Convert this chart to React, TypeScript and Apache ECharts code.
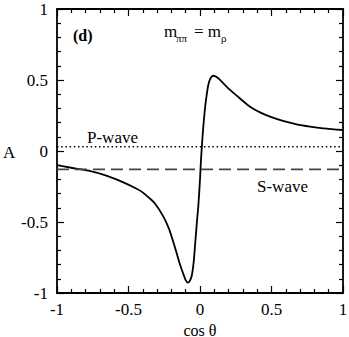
import React, { useEffect, useRef } from "react";
import * as echarts from "echarts";

const cosTheta = [-1, -0.9, -0.78, -0.65, -0.548, -0.45, -0.408, -0.35, -0.315, -0.257, -0.22, -0.19, -0.163, -0.14, -0.117, -0.1, -0.086, -0.072, -0.058, -0.045, -0.035, -0.02, -0.012, 0, 0.007, 0.015, 0.023, 0.032, 0.042, 0.058, 0.075, 0.093, 0.11, 0.128, 0.155, 0.186, 0.21, 0.28, 0.35, 0.42, 0.49, 0.58, 0.676, 0.77, 0.862, 1];
const amplitude = [-0.099, -0.118, -0.139, -0.175, -0.216, -0.262, -0.286, -0.335, -0.37, -0.46, -0.54, -0.63, -0.72, -0.8, -0.865, -0.91, -0.927, -0.915, -0.88, -0.79, -0.67, -0.48, -0.39, -0.2, -0.06, 0.06, 0.17, 0.27, 0.36, 0.465, 0.515, 0.53, 0.525, 0.512, 0.485, 0.453, 0.43, 0.37, 0.312, 0.272, 0.242, 0.212, 0.188, 0.172, 0.16, 0.148];
const pWave = 0.03;
const sWave = -0.13;
const xTicks = ["-1", "-0.5", "0", "0.5", "1"];
const yTicks = ["-1", "-0.5", "0", "0.5", "1"];

const FONT = "Liberation Serif";

export default function App() {
  const ref = useRef<HTMLDivElement>(null);
  useEffect(() => {
    document.body.style.margin = "0";
    if (!ref.current) return;
    const chart = echarts.init(ref.current, null, { renderer: "svg" });
    const fmt = (v: number) => {
      const s = String(Math.round(v * 10) / 10);
      return [...xTicks, ...yTicks].includes(s) ? s : "";
    };
    const axisCommon = {
      type: "value" as const,
      min: -1,
      max: 1,
      interval: 0.5,
      axisLine: { show: true, onZero: false, lineStyle: { color: "#000", width: 1.8 } },
      axisTick: { show: true, inside: true, length: 7, lineStyle: { color: "#000", width: 1.2 } },
      minorTick: { show: true, splitNumber: 5, length: 4, lineStyle: { color: "#000", width: 1.2 } },
      splitLine: { show: false },
      minorSplitLine: { show: false },
    };
    const txt = (text: string, x: number, y: number, size: number, bold = false) => ({
      type: "text",
      x,
      y,
      style: {
        text,
        fontFamily: FONT,
        fontSize: size,
        fontWeight: bold ? "bold" : "normal",
        fill: "#000",
        verticalAlign: "middle",
      },
    });
    chart.setOption({
      animation: false,
      textStyle: { fontFamily: FONT },
      grid: { left: 57, right: 6, top: 9, bottom: 44, containLabel: false, outerBoundsMode: "none" },
      xAxis: [
        {
          ...axisCommon,
          position: "bottom",
          name: "cos θ",
          nameLocation: "middle",
          nameGap: 25,
          nameTextStyle: { fontFamily: FONT, fontSize: 16, lineHeight: 14, color: "#000" },
          axisLabel: { formatter: fmt, fontFamily: FONT, fontSize: 17, color: "#000", margin: 8 },
        },
        { ...axisCommon, position: "top", axisLabel: { show: false } },
      ],
      yAxis: [
        {
          ...axisCommon,
          position: "left",
          axisLabel: { formatter: fmt, fontFamily: FONT, fontSize: 17, color: "#000", margin: 9 },
        },
        { ...axisCommon, position: "right", axisLabel: { show: false } },
      ],
      series: [
        {
          type: "line",
          data: cosTheta.map((x, i) => [x, amplitude[i]]),
          smooth: 0.3,
          showSymbol: false,
          lineStyle: { color: "#000", width: 1.8 },
        },
        {
          type: "line",
          data: [[-1, pWave], [1, pWave]],
          showSymbol: false,
          lineStyle: { color: "#000", width: 1.3, type: [1.5, 2.7] },
        },
        {
          type: "line",
          data: [[-1, sWave], [1, sWave]],
          showSymbol: false,
          lineStyle: { color: "#444", width: 1.8, type: [12, 6] },
        },
      ],
      graphic: [
        txt("A", 3, 152, 17),
        txt("(d)", 73, 35, 16, true),
        txt("m", 164, 31, 17),
        txt("ππ", 176, 38, 11),
        txt("= m", 194, 31, 17),
        txt("ρ", 221, 38, 11),
        txt("P-wave", 87, 137, 17),
        txt("S-wave", 257, 186, 17),
      ],
    });
    return () => chart.dispose();
  }, []);
  return <div ref={ref} style={{ width: 349, height: 337 }} />;
}
